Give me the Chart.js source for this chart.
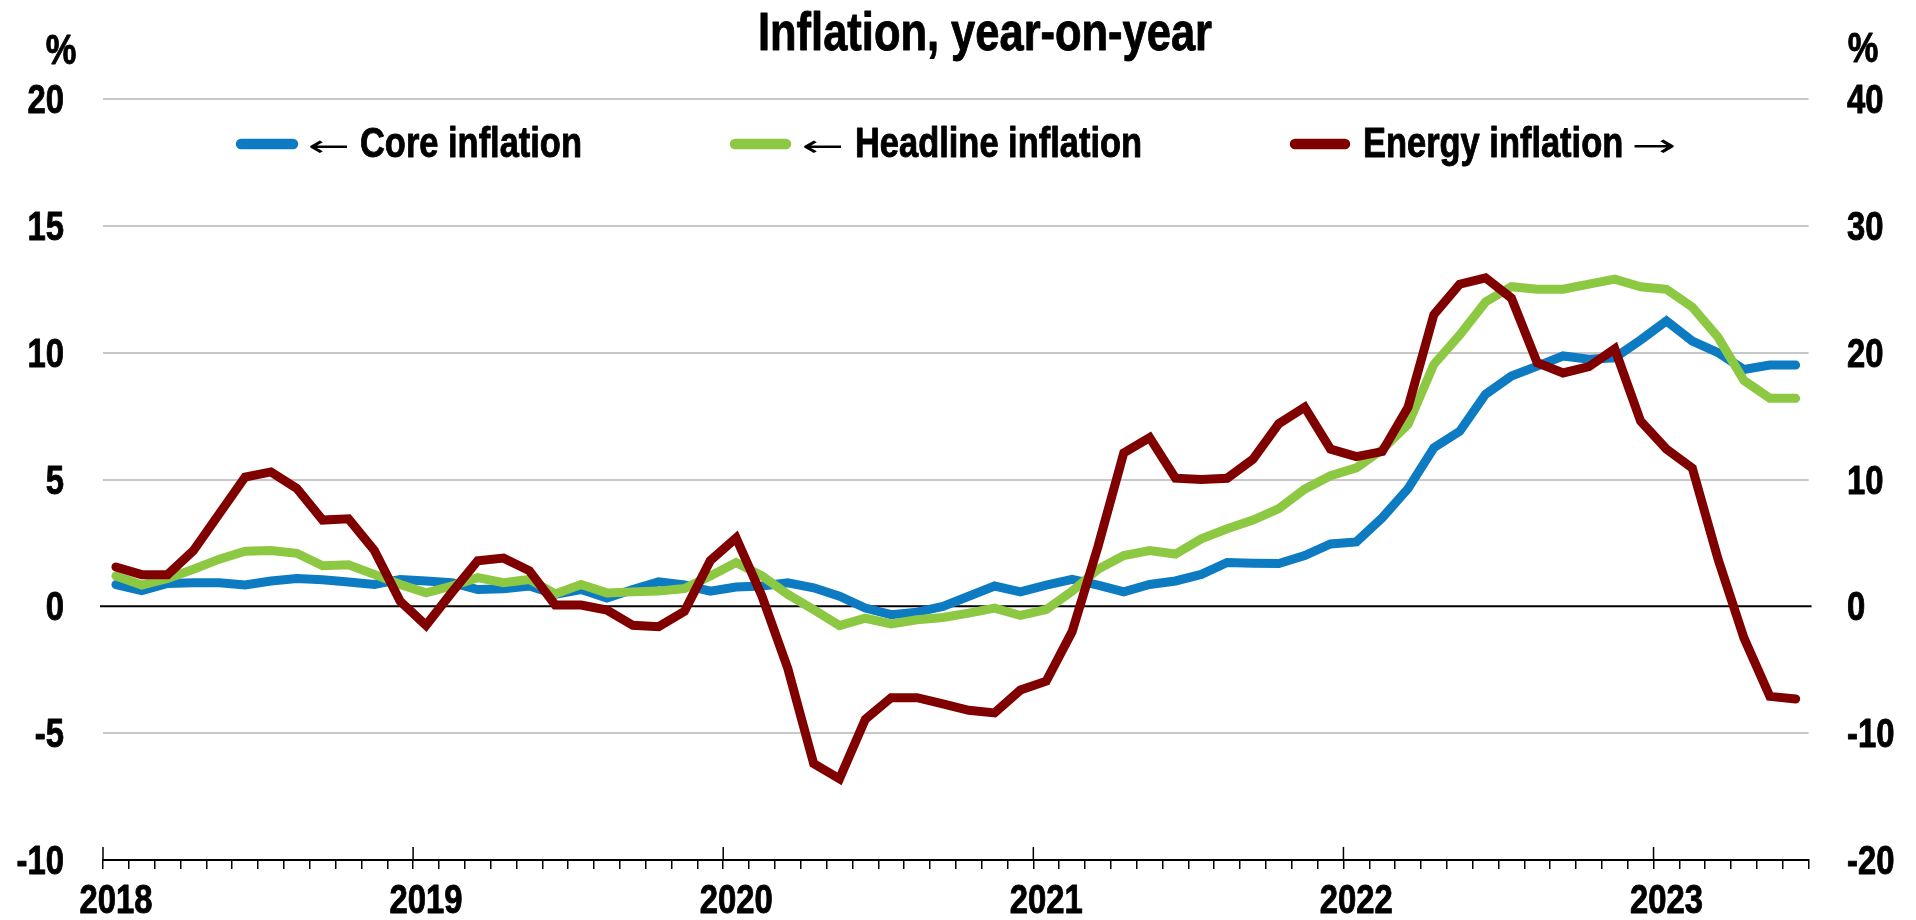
<!DOCTYPE html>
<html><head><meta charset="utf-8">
<script src="https://cdn.jsdelivr.net/npm/chart.js@4.4.1/dist/chart.umd.min.js"></script>
<style>html,body{margin:0;padding:0;background:#fff}#wrap{position:relative;width:1916px;height:920px}</style>
</head><body><div id="wrap"><canvas id="c" width="1916" height="920"></canvas></div>
<script>
// ---- data ----
const yearLabels = ['2018','2019','2020','2021','2022','2023'];
const monthNames = ['Jan','Feb','Mar','Apr','May','Jun','Jul','Aug','Sep','Oct','Nov','Dec'];
const categories = [];
for (const y of yearLabels) for (const m of monthNames) { if (categories.length < 66) categories.push(m + ' ' + y); }

const coreInflation = [
  0.86, 0.62, 0.90, 0.93, 0.93, 0.84, 1.00, 1.10, 1.05, 0.96, 0.86, 1.06,
  1.00, 0.93, 0.66, 0.69, 0.80, 0.47, 0.66, 0.33, 0.66, 0.97, 0.84, 0.60,
  0.76, 0.80, 0.93, 0.73, 0.40, -0.07, -0.33, -0.23, 0.00, 0.40, 0.80, 0.57,
  0.84, 1.06, 0.84, 0.57, 0.86, 1.00, 1.26, 1.73, 1.70, 1.69, 2.00, 2.46,
  2.54, 3.49, 4.64, 6.25, 6.90, 8.36, 9.08, 9.47, 9.87, 9.74, 9.80, 10.50,
  11.25, 10.46, 10.00, 9.34, 9.51, 9.51
];
const headlineInflation = [
  1.20, 0.84, 1.10, 1.46, 1.86, 2.17, 2.20, 2.09, 1.60, 1.64, 1.26, 0.86,
  0.53, 0.80, 1.13, 0.93, 1.06, 0.49, 0.86, 0.53, 0.57, 0.60, 0.70, 1.20,
  1.73, 1.20, 0.47, -0.13, -0.76, -0.47, -0.69, -0.53, -0.44, -0.27, -0.07, -0.36,
  -0.13, 0.60, 1.46, 2.00, 2.20, 2.06, 2.66, 3.06, 3.40, 3.85, 4.62, 5.15,
  5.46, 6.18, 7.17, 9.54, 10.70, 12.00, 12.60, 12.50, 12.50, 12.70, 12.90, 12.60,
  12.50, 11.80, 10.60, 8.90, 8.20, 8.20
];
const energyInflation = [
  3.1, 2.5, 2.5, 4.4, 7.3, 10.2, 10.6, 9.3, 6.8, 6.9, 4.4, 0.4,
  -1.5, 1.1, 3.6, 3.8, 2.8, 0.1, 0.1, -0.3, -1.5, -1.6, -0.4, 3.6,
  5.4, 0.8, -4.9, -12.4, -13.6, -8.9, -7.2, -7.2, -7.7, -8.2, -8.4, -6.6,
  -5.9, -2.0, 4.7, 12.1, 13.3, 10.1, 10.0, 10.1, 11.6, 14.4, 15.7, 12.4,
  11.8, 12.2, 15.7, 23.0, 25.4, 25.9, 24.3, 19.2, 18.4, 18.9, 20.3, 14.6,
  12.4, 10.9, 3.7, -2.5, -7.1, -7.3
];
const leftTicks = { min: -10, max: 20, step: 5 };
const rightTicks = { min: -20, max: 40, step: 10 };
const titleText = 'Inflation, year-on-year';
const seriesNames = ['Core inflation', 'Headline inflation', 'Energy inflation'];
const unitLabel = '%';

// ---- styles ----
const FAM = "'Liberation Sans',Arial,sans-serif";
const NARROW = 0.82; // emulate a narrow face
const BLUE = '#0C7BC2', GREEN = '#8DC843', RED = '#800000';

function txt(ctx, s, x, y, size, weight, align) {
  ctx.save();
  ctx.font = weight + ' ' + size + 'px ' + FAM;
  ctx.textAlign = align; ctx.textBaseline = 'alphabetic';
  ctx.fillStyle = '#000'; ctx.strokeStyle = '#000'; ctx.lineWidth = 0.9; ctx.lineJoin = 'round';
  ctx.translate(x, y); ctx.scale(NARROW, 1);
  ctx.fillText(s, 0, 0);
  ctx.strokeText(s, 0, 0);
  ctx.restore();
}
function txtWidth(ctx, s, size, weight) {
  ctx.save(); ctx.font = weight + ' ' + size + 'px ' + FAM;
  const w = ctx.measureText(s).width * NARROW; ctx.restore(); return w;
}
// draw an arrow glyph fitted to an ink box
function arrow(ctx, s, x0, x1, y0, y1) {
  ctx.save();
  ctx.font = "40px 'DejaVu Sans',sans-serif";
  ctx.textAlign = 'left'; ctx.textBaseline = 'alphabetic'; ctx.fillStyle = '#000';
  const m = ctx.measureText(s);
  const iw = m.actualBoundingBoxLeft + m.actualBoundingBoxRight;
  const ih = m.actualBoundingBoxAscent + m.actualBoundingBoxDescent;
  ctx.translate(x0, y0);
  ctx.scale((x1 - x0) / iw, (y1 - y0) / ih);
  ctx.fillText(s, m.actualBoundingBoxLeft, m.actualBoundingBoxAscent);
  ctx.restore();
}

const decor = {
  id: 'decor',
  beforeDatasetsDraw(chart) {
    const ctx = chart.ctx, a = chart.chartArea, yL = chart.scales.yL;
    const y0 = yL.getPixelForValue(0);
    ctx.save();
    ctx.strokeStyle = '#000'; ctx.lineWidth = 2;
    ctx.beginPath(); ctx.moveTo(a.left - 3, y0); ctx.lineTo(a.right + 3, y0); ctx.stroke();
    ctx.restore();
  },
  afterDraw(chart) {
    const ctx = chart.ctx, a = chart.chartArea, x = chart.scales.x, yL = chart.scales.yL, yR = chart.scales.yR;
    // year tick marks extending above axis
    const half = (x.getPixelForValue(1) - x.getPixelForValue(0)) / 2;
    ctx.save();
    ctx.strokeStyle = '#000'; ctx.lineWidth = 1.5;
    for (let i = 0; i < categories.length; i += 12) {
      const px = x.getPixelForValue(i) - half;
      ctx.beginPath(); ctx.moveTo(px, a.bottom - 13); ctx.lineTo(px, a.bottom); ctx.stroke();
    }
    ctx.restore();
    // tick labels
    for (const t of yL.ticks) txt(ctx, String(t.value), 64, yL.getPixelForValue(t.value) + 14, 40, 'bold', 'right');
    for (const t of yR.ticks) txt(ctx, String(t.value), 1847, yR.getPixelForValue(t.value) + 14, 40, 'bold', 'left');
    for (let i = 0; i < categories.length; i += 12) txt(ctx, yearLabels[i / 12], x.getPixelForValue(i), 913, 40, 'bold', 'center');
    // title
    txt(ctx, titleText, 985, 50, 53, 'bold', 'center');
    // % units
    txt(ctx, unitLabel, 61, 64, 42, 'bold', 'center');
    txt(ctx, unitLabel, 1863, 62, 42, 'bold', 'center');
    // legend
    const items = [
      { c: BLUE, x1: 236, x2: 298, arrowL: 309, text: 360, name: seriesNames[0] },
      { c: GREEN, x1: 730, x2: 791, arrowL: 803, text: 855, name: seriesNames[1] },
      { c: RED, x1: 1290, x2: 1350, arrowR: true, text: 1363, name: seriesNames[2] }
    ];
    const ly = 144, lb = 157;
    for (const it of items) {
      ctx.save();
      ctx.strokeStyle = it.c; ctx.lineWidth = 10.5; ctx.lineCap = 'round';
      ctx.beginPath(); ctx.moveTo(it.x1 + 5, ly); ctx.lineTo(it.x2 - 5, ly); ctx.stroke();
      ctx.restore();
      txt(ctx, it.name, it.text, lb, 42, 'bold', 'left');
      if (it.arrowL !== undefined) arrow(ctx, '\u2190', it.arrowL, it.arrowL + 39, 140, 154);
      if (it.arrowR) {
        const ax = it.text + txtWidth(ctx, it.name, 42, 'bold') + 11;
        arrow(ctx, '\u2192', ax, ax + 40, 139, 154);
      }
    }
  }
};

new Chart(document.getElementById('c'), {
  type: 'line',
  data: {
    labels: categories,
    datasets: [
      { label: seriesNames[0], data: coreInflation, borderColor: BLUE, yAxisID: 'yL', order: 3 },
      { label: seriesNames[1], data: headlineInflation, borderColor: GREEN, yAxisID: 'yL', order: 2 },
      { label: seriesNames[2], data: energyInflation, borderColor: RED, yAxisID: 'yR', order: 1 }
    ]
  },
  options: {
    responsive: false, animation: false, devicePixelRatio: 1,
    layout: { padding: { top: 99, left: 0, right: 0, bottom: 0 } },
    elements: {
      point: { radius: 0, hoverRadius: 0 },
      line: { borderWidth: 9, tension: 0, borderCapStyle: 'round', borderJoinStyle: 'miter', fill: false }
    },
    plugins: { legend: { display: false }, tooltip: { enabled: false }, title: { display: false } },
    scales: {
      x: {
        type: 'category', offset: true,
        grid: { offset: true, drawOnChartArea: false, drawTicks: true, tickLength: 9, color: '#000', lineWidth: 1.5 },
        border: { display: true, color: '#000', width: 2 },
        ticks: { display: false, autoSkip: false, maxRotation: 0, minRotation: 0 },
        afterFit: s => { s.height = 60; }
      },
      yL: {
        position: 'left', min: leftTicks.min, max: leftTicks.max,
        grid: { drawTicks: false, lineWidth: 2, color: c => (c.tick && c.tick.value === 0 ? 'rgba(0,0,0,0)' : '#c8c8c8') },
        border: { display: false },
        ticks: { display: false, stepSize: leftTicks.step },
        afterFit: s => { s.width = 103; }
      },
      yR: {
        position: 'right', min: rightTicks.min, max: rightTicks.max,
        grid: { drawOnChartArea: false, drawTicks: false },
        border: { display: false },
        ticks: { display: false, stepSize: rightTicks.step },
        afterFit: s => { s.width = 107.4; }
      }
    }
  },
  plugins: [decor]
});
</script></body></html>
